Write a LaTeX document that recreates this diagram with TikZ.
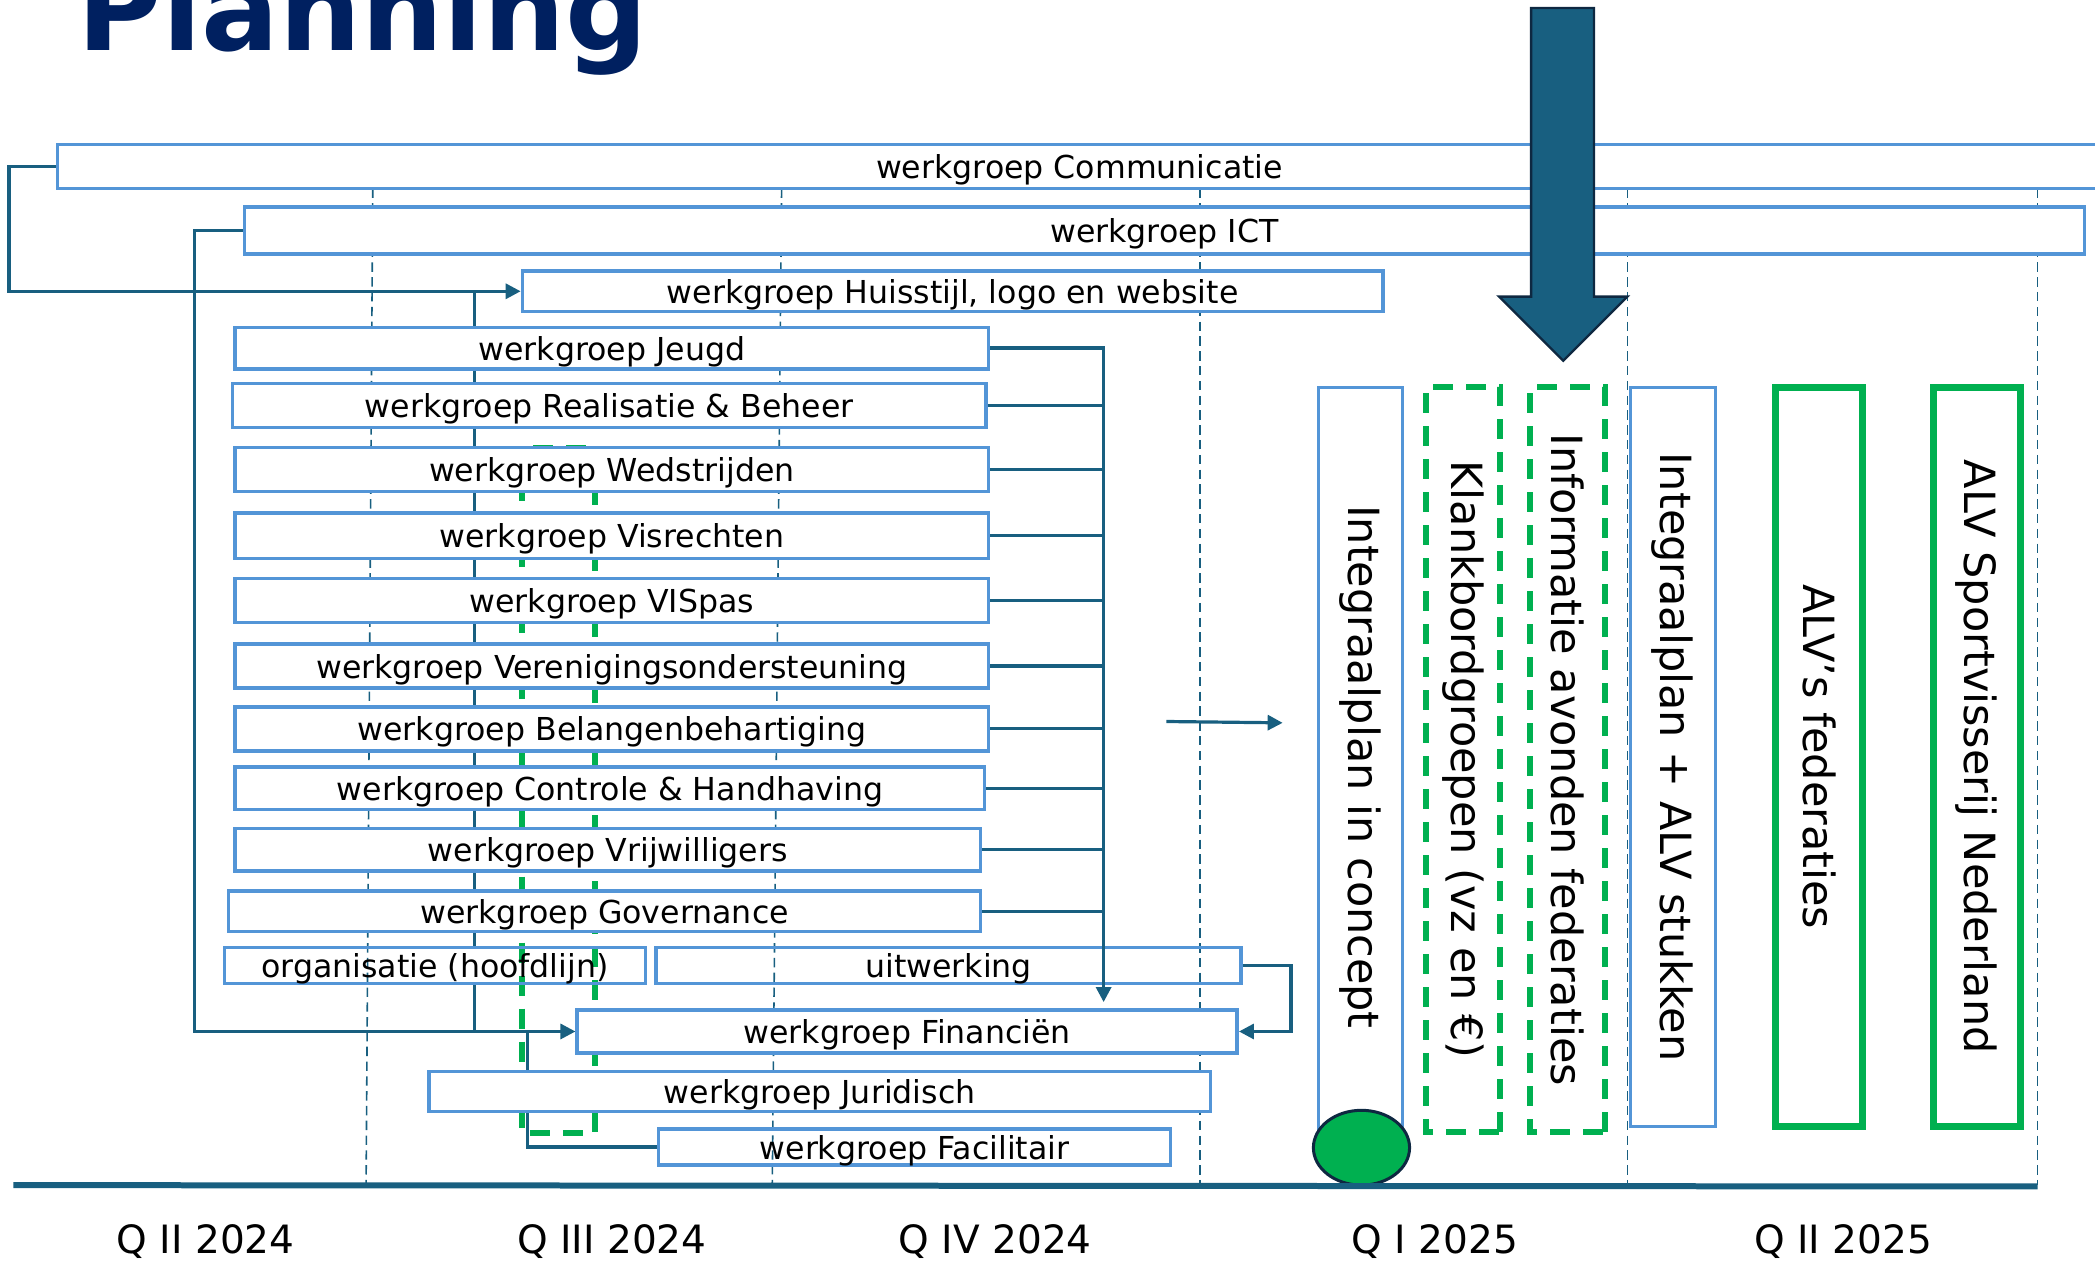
\documentclass[tikz,border=0pt]{standalone}
\usepackage{fontspec}
\setmainfont{DejaVu Sans}
\usetikzlibrary{arrows.meta,shapes.geometric}
\definecolor{wgblauw}{RGB}{83,149,215}
\definecolor{lijnblauw}{RGB}{24,95,128}
\definecolor{groen}{RGB}{0,176,80}
\definecolor{titelblauw}{RGB}{0,32,96}
\definecolor{donker}{RGB}{14,40,65}
\newcommand{\eenh}{0.6681pt}
\pgfdeclarelayer{achter}
\pgfsetlayers{achter,main}
\tikzset{
  wg/.style={draw=wgblauw, line width=1.75pt, fill=white, inner sep=0pt,
    text depth=0pt, font=\fontsize{15.8}{19}\selectfont},
  wgopen/.style={wg, fill=none},
  vbox/.style={draw=wgblauw, line width=1.5pt, fill=white, rotate=-90,
    inner sep=0pt, font=\fontsize{21.5}{26}\selectfont},
  vgroen/.style={vbox, draw=groen, line width=3.6pt},
  vstreep/.style={vbox, draw=groen, line width=3pt, dash pattern=on 10pt off 6.5pt},
  verbind/.style={draw=lijnblauw, line width=1.6pt},
  pijl/.style={verbind, -{Triangle[length=7.5pt,width=7.5pt]}},
  kwartaal/.style={draw=lijnblauw, line width=0.8pt, dash pattern=on 4.7pt off 2.7pt},
  qlabel/.style={inner sep=0pt, font=\fontsize{19.5}{23}\selectfont}
}
\begin{document}
\begin{tikzpicture}[x=\eenh, y=-\eenh]
  \useasboundingbox (0,0) rectangle (1568,944.6);
  % titel
  \node (titel) at (58,38) [anchor=base west, inner sep=0pt, text=titelblauw,
    font=\bfseries\fontsize{57.6}{60}\selectfont] {Planning};

  % werkgroepen
  \node (comm) at (808,124.5) [wg, minimum width=1530*\eenh, minimum height=33*\eenh] {werkgroep Communicatie};
  \node (ict) at (871.5,172.5) [wg, minimum width=1377*\eenh, minimum height=35*\eenh] {werkgroep ICT};
  \node (huis) at (713,218) [wg, minimum width=644*\eenh, minimum height=30*\eenh] {werkgroep Huisstijl, logo en website};
  \node (jeugd) at (458,260.5) [wg, minimum width=564*\eenh, minimum height=31*\eenh] {werkgroep Jeugd};
  \node (real) at (456,303.5) [wg, minimum width=564*\eenh, minimum height=33*\eenh] {werkgroep Realisatie \& Beheer};
  \node (weds) at (458,351.5) [wg, minimum width=564*\eenh, minimum height=33*\eenh] {werkgroep Wedstrijden};
  \node (visr) at (458,401) [wg, minimum width=564*\eenh, minimum height=34*\eenh] {werkgroep Visrechten};
  \node (vispas) at (458,449.5) [wg, minimum width=564*\eenh, minimum height=33*\eenh] {werkgroep VISpas};
  \node (veren) at (458,498.5) [wg, minimum width=564*\eenh, minimum height=33*\eenh] {werkgroep Verenigingsondersteuning};
  \node (belang) at (458,545.5) [wg, minimum width=564*\eenh, minimum height=33*\eenh] {werkgroep Belangenbehartiging};
  \node (contr) at (456.5,590) [wg, minimum width=561*\eenh, minimum height=32*\eenh] {werkgroep Controle \& Handhaving};
  \node (vrijw) at (455,636) [wg, minimum width=558*\eenh, minimum height=32*\eenh] {werkgroep Vrijwilligers};
  \node (gov) at (452.5,682) [wg, minimum width=563*\eenh, minimum height=30*\eenh] {werkgroep Governance};
  \node (org) at (325.5,722.5) [wgopen, minimum width=315*\eenh, minimum height=27*\eenh] {organisatie (hoofdlijn)};
  \node (uitw) at (710,722.5) [wgopen, minimum width=438*\eenh, minimum height=27*\eenh] {uitwerking};
  \node (fin) at (679,772) [wg, minimum width=494*\eenh, minimum height=32*\eenh] {werkgroep Financiën};
  \node (jur) at (613.5,817) [wg, minimum width=585*\eenh, minimum height=30*\eenh] {werkgroep Juridisch};
  \node (facil) at (684.5,858.5) [wgopen, minimum width=383*\eenh, minimum height=27*\eenh] {werkgroep Facilitair};

  % mijlpalen
  \node (ipc) at (1018.5,574) [vbox, minimum width=568*\eenh, minimum height=63*\eenh] {Integraalplan in concept};
  \node (klank) at (1095,568.5) [vstreep, minimum width=557*\eenh, minimum height=56*\eenh] {Klankbordgroepen (vz en €)};
  \node (info) at (1173,568.5) [vstreep, minimum width=557*\eenh, minimum height=56*\eenh] {Informatie avonden federaties};
  \node (ipa) at (1252,566.5) [vbox, minimum width=553*\eenh, minimum height=64*\eenh] {Integraalplan + ALV stukken};
  \node (alvf) at (1361.5,566.5) [vgroen, minimum width=553*\eenh, minimum height=65*\eenh] {ALV’s federaties};
  \node (alvs) at (1479.5,566.5) [vgroen, minimum width=553*\eenh, minimum height=65*\eenh] {ALV Sportvisserij Nederland};
  \node (stip) at (1019,859) [ellipse, fill=groen, draw=donker, line width=1.5pt,
    minimum width=72*\eenh, minimum height=56*\eenh] {};

  \begin{pgfonlayer}{achter}
    \draw[kwartaal] (279,141) -- (274,887);
    \draw[kwartaal] (585,141) -- (578,887);
    \draw[kwartaal] (898,141) -- (898,887);
    \draw[kwartaal] (1218,141) -- (1218,887);
    \draw[kwartaal] (1525,141) -- (1525,887);
    \draw[groen, line width=3pt, dash pattern=on 10pt off 6.5pt] (391,335) rectangle (445,848);
    \draw[pijl] (comm.west) -- ++(-35,0) |- (huis.west);
    \draw[pijl] (ict.west) -- ++(-36,0) |- (fin.west);
    \coordinate (tak1) at (355,218);
    \coordinate (tak2) at (395,772);
    \draw[verbind] (huis.west -| tak1) -- (org.north -| tak1);
    \draw[verbind] (org.south -| tak1) -- (fin.west -| tak1);
    \draw[verbind] (fin.west -| tak2) |- (facil.west);
  \end{pgfonlayer}

  % verbindingen naar financien
  \coordinate (bus) at (826,260);
  \coordinate (busend) at (826,750);
  \draw[pijl] (jeugd.east) -| (busend);
  \draw[verbind] (real.east) -- (real.east -| bus);
  \draw[verbind] (weds.east) -- (weds.east -| bus);
  \draw[verbind] (visr.east) -- (visr.east -| bus);
  \draw[verbind] (vispas.east) -- (vispas.east -| bus);
  \draw[verbind] (veren.east) -- (veren.east -| bus);
  \draw[verbind] (belang.east) -- (belang.east -| bus);
  \draw[verbind] (contr.east) -- (contr.east -| bus);
  \draw[verbind] (vrijw.east) -- (vrijw.east -| bus);
  \draw[verbind] (gov.east) -- (gov.east -| bus);
  \draw[pijl] (uitw.east) -- ++(36,0) |- (fin.east);
  \coordinate (los1) at (873,540);
  \coordinate (los2) at (960,541);
  \draw[pijl] (los1) -- (los2);

  % grote pijl
  \draw[fill=lijnblauw, draw=donker, line width=1.2pt] (1146,6) -- (1193,6) -- (1193,222)
    -- (1218,222) -- (1170,270) -- (1122,222) -- (1146,222) -- cycle;

  % tijdlijn
  \draw[lijnblauw, line width=3pt] (10,887) -- (1525,888);
  \node (q1) at (154,929) [qlabel] {Q II 2024};
  \node (q2) at (458,929) [qlabel] {Q III 2024};
  \node (q3) at (745,929) [qlabel] {Q IV 2024};
  \node (q4) at (1074,929) [qlabel] {Q I 2025};
  \node (q5) at (1379.5,929) [qlabel] {Q II 2025};
\end{tikzpicture}
\end{document}
